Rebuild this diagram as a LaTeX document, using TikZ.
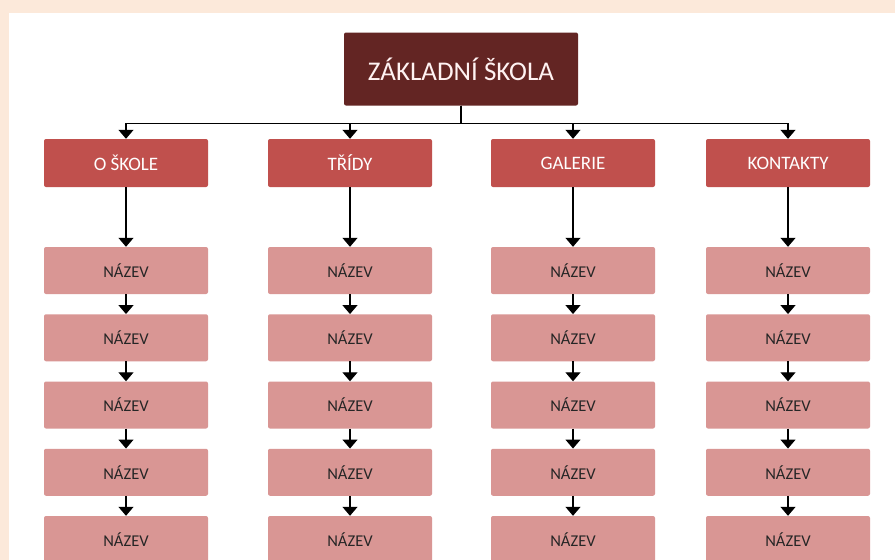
\documentclass[tikz,border=0pt]{standalone}
\usepackage{fontspec}
\setmainfont{Carlito}
\usepackage{tikz}
\usetikzlibrary{arrows.meta,positioning}

\definecolor{peach}{HTML}{FCE9DA}
\definecolor{darkred}{HTML}{632523}
\definecolor{midred}{HTML}{C0504D}
\definecolor{lightred}{HTML}{D99694}

\begin{document}
\begin{tikzpicture}[x=1pt,y=-1pt,
  every node/.style={rectangle, rounded corners=2pt, inner sep=0pt},
  topnode/.style={fill=darkred, text=white!95!red, minimum width=234pt, minimum height=73pt, font=\fontsize{27}{31}\selectfont},
  sectnode/.style={fill=midred, text=white, minimum width=164pt, minimum height=48pt, font=\fontsize{19}{23}\selectfont},
  itemnode/.style={fill=lightred, text=black!85, minimum width=164pt, minimum height=47pt, font=\fontsize{16.5}{20}\selectfont},
  arr/.style={line width=1.3pt, black, -{Triangle[width=15pt,length=9pt]}}]

\useasboundingbox (0,0) rectangle (895,560);
\clip (0,0) rectangle (895,560);

% background
\fill [peach] (0,0) rectangle (895,560);
\fill [white] (9,13) rectangle (895,560);

\node (top) [topnode] at (461,69) {ZÁKLADNÍ ŠKOLA};

\node (s1) [sectnode] at (126,163) {O ŠKOLE};
\node (s2) [sectnode] at (350,163) {TŘÍDY};
\node (s3) [sectnode] at (573,163) {GALERIE};
\node (s4) [sectnode] at (788,163) {KONTAKTY};

\foreach \i/\x in {1/126,2/350,3/573,4/788} {
  \draw [arr] (top.south) -- ++(0,18) -| (s\i.north);
  \foreach \j in {1,...,5} {
    \pgfmathsetmacro\y{270.5+67.25*(\j-1)}
    \node (n\i-\j) [itemnode] at (\x,\y) {NÁZEV};
  }
  \draw [arr] (s\i) -- (n\i-1);
  \foreach \j [count=\k from 2] in {1,...,4}
    \draw [arr] (n\i-\j) -- (n\i-\k);
}

\end{tikzpicture}
\end{document}
